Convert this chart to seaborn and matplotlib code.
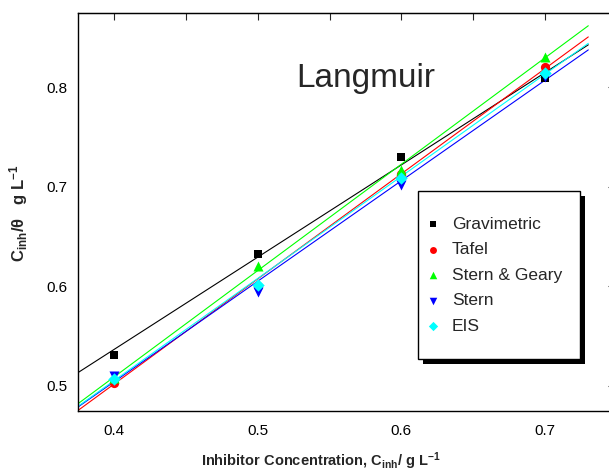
import numpy as np
import matplotlib
matplotlib.use("Agg")
import matplotlib.pyplot as plt
import seaborn as sns
from matplotlib.patches import Rectangle

# Data
conc = [0.4, 0.5, 0.6, 0.7]
methods = ['Gravimetric', 'Tafel', 'Stern & Geary', 'Stern', 'EIS']
gravimetric = [0.531, 0.6325, 0.730, 0.809]
tafel = [0.503, 0.600, 0.7134, 0.820]
stern_geary = [0.508, 0.620, 0.717, 0.830]
stern = [0.510, 0.5947, 0.7017, 0.8107]
eis = [0.507, 0.601, 0.7084, 0.814]
series = [gravimetric, tafel, stern_geary, stern, eis]

# linear fits as drawn in the original (slope, intercept)
fit_slope = [0.928, 1.0575, 1.070, 1.011, 1.0274]
fit_intercept = [0.1653, 0.0787, 0.0808, 0.0996, 0.0942]
fit_range = [0.375, 0.73]

colors = ['#000000', '#ff0000', '#00ff00', '#0000ff', '#00ffff']
markers = ['s', 'o', '^', 'v', 'D']
sizes = [34, 44, 52, 52, 40]

sns.set_style("white")
plt.rcParams['font.family'] = ['Liberation Sans', 'DejaVu Sans']
plt.rcParams['mathtext.fontset'] = 'custom'
plt.rcParams['mathtext.rm'] = 'Liberation Sans'
plt.rcParams['mathtext.it'] = 'Liberation Sans:italic'
plt.rcParams['mathtext.bf'] = 'Liberation Sans:bold'

fig = plt.figure(figsize=(6.09, 4.73), dpi=100)
ax = fig.add_axes([0.1281, 0.1317, 0.8851, 0.8414])

fit_x = np.array(fit_range)
for name, vals, c, m, s, k, b in zip(methods, series, colors, markers, sizes,
                                     fit_slope, fit_intercept):
    sns.lineplot(x=fit_x, y=b + k * fit_x, color=c, lw=0.8, ax=ax, zorder=2)
    sns.scatterplot(x=conc, y=vals, marker=m, color=c, s=s, linewidth=0,
                    label=name, ax=ax, zorder=3)

ax.set_xlim(0.375, 0.75)
ax.set_ylim(0.475, 0.875)
ax.set_xticks([0.4, 0.5, 0.6, 0.7])
ax.set_xticks([0.45, 0.55, 0.65], minor=True)
ax.set_yticks([0.5, 0.6, 0.7, 0.8])
ax.set_yticks([0.55, 0.65, 0.75, 0.85], minor=True)
ax.tick_params(which='major', direction='out', length=4.3, width=0.8,
               labelsize=11, colors='black')
ax.tick_params(which='minor', direction='out', length=2.2, width=0.8)
ax.tick_params(axis='x', pad=5.5)
ax.tick_params(axis='y', pad=3.5)
for sp in ax.spines.values():
    sp.set_color('black')
    sp.set_linewidth(1.0)

top = ax.secondary_xaxis('top')
top.set_xticks([0.4, 0.45, 0.5, 0.55, 0.6, 0.65, 0.7])
top.tick_params(direction='in', length=4.8, width=0.8, labeltop=False)
right = ax.secondary_yaxis('right')
right.set_yticks([0.5, 0.6, 0.7, 0.8])
right.tick_params(direction='in', length=6.5, width=0.8, labelright=False)

ax.set_xlabel(r'Inhibitor Concentration, $\mathbf{C_{inh}}$/ g L$^{\mathbf{-1}}$',
              fontsize=10.5, fontweight='bold')
ax.xaxis.set_label_coords(0.451, -0.100)
ax.set_ylabel(r'$\mathbf{C_{inh}}$/$\mathbf{\theta}$   g L$^{\mathbf{-1}}$',
              fontsize=12, fontweight='bold')
ax.yaxis.set_label_coords(-0.09, 0.495)

ax.text(0.5754, 0.800, 'Langmuir', fontsize=24, ha='center', va='baseline')

# legend box with a solid drop shadow, as in the original
ax.add_patch(Rectangle((0.6401, 0.1173), 0.3006, 0.4221, transform=ax.transAxes,
                       facecolor='black', edgecolor='none', zorder=4))
ax.add_patch(Rectangle((0.6308, 0.1299), 0.3006, 0.4221, transform=ax.transAxes,
                       facecolor='white', edgecolor='black', lw=1.0, zorder=5))
handles, labels = ax.get_legend_handles_labels()
leg = ax.legend(handles, labels, loc='upper left', bbox_to_anchor=(0.6428, 0.488),
                borderaxespad=0, borderpad=0, frameon=False, fontsize=12.5,
                handlelength=1.0, handletextpad=0.59, labelspacing=0.6,
                markerscale=0.75)
leg.set_zorder(6)

fig.savefig('out.png', dpi=100)
